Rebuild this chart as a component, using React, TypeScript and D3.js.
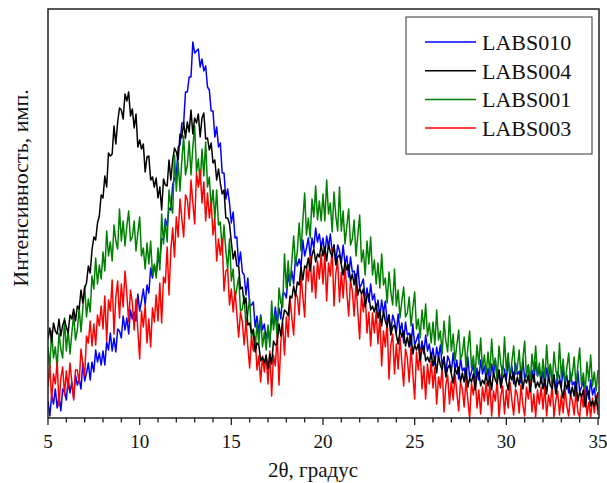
import React from "react";
import * as d3 from "d3";

// 2θ sampling: start 5°, step 0.1° (301 points per pattern)
const ANGLE_START = 5;
const ANGLE_STEP = 0.1;

const xTicks = [5, 10, 15, 20, 25, 30, 35];
const xMinorTicks = d3.range(5, 36, 1);

const seriesNames = ["LABS010", "LABS004", "LABS001", "LABS003"];
const seriesColors = ["#0000ff", "#000000", "#008000", "#ff0000"];

// intensity, arbitrary units
const labs010 = [
  17,2,23,14,29,10,22,7,29,26,18,39,25,36,20,43,33,39,29,55,37,45,55,38,56,46,68,56,65,53,
  67,53,76,68,85,67,80,66,89,87,80,102,88,100,84,108,99,106,97,124,107,117,129,113,133,125,150,140,153,143,
  159,155,179,179,199,192,210,208,233,240,242,271,273,295,295,326,326,341,341,376,365,367,369,351,359,347,352,331,328,307,
  307,281,291,271,275,245,245,219,229,215,195,206,180,181,153,166,146,143,123,140,112,113,116,91,102,85,103,88,94,79,
  89,77,100,94,111,95,110,99,124,125,120,144,133,147,134,160,152,159,151,178,162,170,180,162,180,170,190,176,184,170,
  180,163,182,171,184,165,173,155,173,167,155,173,154,162,141,161,146,147,132,153,130,134,139,117,130,116,134,118,124,108,
  118,100,118,105,117,95,103,85,103,97,85,104,86,95,75,96,83,85,72,94,73,78,84,63,77,64,83,67,74,59,
  70,53,71,60,73,52,61,43,62,57,46,65,48,58,39,60,47,50,38,61,40,46,54,34,50,38,58,44,52,38,
  50,34,54,44,58,38,48,32,52,48,38,58,42,52,34,55,43,47,35,59,39,45,53,32,48,36,56,42,49,35,
  47,31,50,40,53,33,43,26,46,41,31,50,34,43,25,46,33,36,24,47,26,31,38,17,32,19,38,23,30,15,
  26,
];

const labs004 = [
  79,90,76,95,87,84,99,82,93,98,91,85,103,99,109,97,112,109,128,115,130,135,152,145,168,181,178,195,202,223,
  220,242,231,265,262,264,292,274,296,310,308,299,324,317,326,302,309,290,304,271,278,269,274,246,261,262,238,241,231,240,
  220,231,208,239,233,232,258,238,258,270,266,258,284,280,296,280,296,286,308,284,300,295,304,281,300,305,279,280,268,275,
  255,258,238,249,235,224,228,200,200,194,176,159,167,152,152,129,131,114,120,93,95,85,88,66,75,73,57,61,55,63,
  49,64,54,77,73,74,94,82,98,108,106,102,122,120,132,122,136,133,151,138,152,150,160,147,163,169,156,164,161,173,
  162,171,157,174,166,161,173,153,161,163,153,143,156,148,153,137,144,133,144,123,130,124,129,111,122,124,108,112,106,114,
  100,108,92,107,97,91,103,83,91,93,83,74,88,81,87,72,81,71,84,64,73,68,74,57,69,72,57,61,56,65,
  52,61,45,62,53,48,61,41,50,53,44,35,50,44,51,36,45,36,50,31,40,36,44,28,42,46,32,38,34,44,
  32,42,28,46,38,34,48,30,40,44,36,28,44,38,46,31,41,33,47,29,39,35,43,26,40,44,30,36,31,41,
  29,39,24,42,33,29,43,24,34,37,29,20,36,29,37,22,31,22,36,17,26,21,28,11,24,27,12,17,12,21,
  8,
];

const labs001 = [
  71,50,87,60,71,50,85,69,60,100,67,88,64,85,103,78,88,110,86,110,132,101,119,106,142,129,160,134,153,139,
  166,147,187,162,176,157,193,177,169,209,177,197,172,192,207,177,181,197,167,185,201,162,170,149,175,154,177,143,154,140,
  170,148,204,174,196,176,228,212,205,263,227,256,227,257,282,243,253,277,243,271,292,246,259,234,269,242,276,231,241,210,
  228,199,228,193,196,167,193,167,149,179,137,149,118,130,141,107,109,122,90,105,119,80,89,68,95,74,101,71,86,68,
  93,71,117,88,104,80,130,115,111,164,130,157,132,157,182,153,167,195,167,197,225,183,200,180,219,201,232,198,217,197,
  224,197,238,204,215,186,226,202,187,231,187,207,174,192,209,173,179,198,162,183,203,156,168,143,177,154,181,143,158,134,
  155,130,164,133,140,115,146,126,113,149,112,128,100,117,131,101,105,121,92,110,126,89,99,80,108,89,114,82,95,75,
  96,73,108,78,87,64,97,77,66,102,67,84,57,73,88,59,64,81,51,70,87,50,62,43,73,54,80,49,63,44,
  66,44,79,51,60,38,72,54,43,81,47,65,39,56,72,44,50,68,39,59,77,41,53,34,64,46,72,42,55,37,
  59,37,73,44,54,32,66,48,37,75,41,59,32,50,65,37,43,61,32,52,70,33,45,26,56,37,63,32,46,27,
  48,
];

const labs003 = [
  31,53,17,44,34,56,12,40,51,23,47,29,55,36,18,48,48,35,69,54,42,82,75,97,72,94,73,103,92,112,
  89,122,77,118,107,138,84,121,137,100,134,111,147,124,96,128,115,88,119,88,59,107,91,113,75,99,71,110,96,123,
  97,135,95,141,135,171,123,168,190,161,201,181,219,199,181,223,218,199,238,215,194,245,231,248,215,236,197,225,200,216,
  183,199,157,179,163,179,127,147,149,113,129,106,127,104,81,106,96,73,97,72,50,82,67,81,48,62,36,62,46,62,
  34,67,22,63,52,83,33,75,95,63,101,81,120,100,83,125,121,103,143,121,101,151,137,162,126,152,120,157,139,164,
  134,164,117,155,142,170,112,145,157,116,146,120,152,126,102,138,127,102,135,106,79,124,106,125,85,106,72,105,85,106,
  74,102,52,87,71,97,39,73,84,44,74,49,81,56,32,69,60,36,71,44,19,66,48,69,29,52,19,54,34,57,
  30,51,14,41,30,51,6,33,43,14,37,18,44,25,7,36,29,11,38,18,0,35,23,40,10,28,4,31,17,35,
  13,35,2,27,17,38,1,22,32,4,28,10,36,18,3,29,23,5,33,13,2,31,19,37,6,24,1,28,14,31,
  9,31,2,23,12,34,1,18,27,3,23,5,30,12,2,23,17,3,27,6,1,24,11,29,2,16,1,20,5,23,
  3,
];

const seriesValues = [labs010, labs004, labs001, labs003];
// drawing order: blue, green, red, black on top
const drawOrder = [0, 2, 3, 1];

const W = 607;
const H = 483;
const left = 48;
const right = 598;
const top = 9;
const bottom = 418;
const FONT = "'Liberation Serif', 'Times New Roman', Times, 'DejaVu Serif', serif";

export default function App() {
  const x = d3.scaleLinear().domain([5, 35]).range([left, right]);
  const y = d3.scaleLinear().domain([0, 409]).range([bottom, top]);

  const line = d3
    .line<number>()
    .x((_, i) => x(ANGLE_START + i * ANGLE_STEP))
    .y((v) => y(v));

  const textStyle = { fontFamily: FONT } as React.CSSProperties;

  return (
    <svg
      width={W}
      height={H}
      style={{ position: "absolute", left: 0, top: 0, background: "#fff" }}
    >
      <defs>
        <clipPath id="plotClip">
          <rect x={left} y={top} width={right - left + 1} height={bottom - top} />
        </clipPath>
      </defs>
      <rect x={0} y={0} width={W} height={H} fill="#fff" />
      <g clipPath="url(#plotClip)">
        {drawOrder.map((k) => (
          <path
            key={seriesNames[k]}
            d={line(seriesValues[k]) || ""}
            fill="none"
            stroke={seriesColors[k]}
            strokeWidth={1.5}
            strokeLinejoin="round"
          />
        ))}
      </g>
      {/* frame */}
      <rect
        x={left}
        y={top}
        width={right - left + 1}
        height={bottom - top}
        fill="none"
        stroke="#222"
        strokeWidth={1.5}
      />
      {/* x ticks */}
      {xMinorTicks.map((t) => (
        <line
          key={"m" + t}
          x1={x(t)}
          x2={x(t)}
          y1={bottom}
          y2={bottom + (xTicks.includes(t) ? 7 : 4.5)}
          stroke="#222"
          strokeWidth={1.3}
        />
      ))}
      {xTicks.map((t) => (
        <text
          key={"l" + t}
          x={x(t)}
          y={448}
          textAnchor="middle"
          style={textStyle}
          fontSize={19}
          fill="#111"
        >
          {t}
        </text>
      ))}
      <text
        x={313}
        y={477}
        textAnchor="middle"
        style={textStyle}
        fontSize={21}
        fill="#111"
      >
        2θ, градус
      </text>
      <text
        transform="translate(28,188) rotate(-90)"
        textAnchor="middle"
        style={textStyle}
        fontSize={22}
        fill="#111"
      >
        Интенсивность, имп.
      </text>
      {/* legend */}
      <rect x={406} y={17} width={186} height={137} fill="#fff" stroke="#333" strokeWidth={1} />
      {seriesNames.map((name, i) => {
        const ly = 42 + i * 28.7;
        return (
          <g key={name}>
            <line x1={425} x2={476} y1={ly} y2={ly} stroke={seriesColors[i]} strokeWidth={1.5} />
            <text x={482} y={ly + 8} style={textStyle} fontSize={22} fill="#111">
              {name}
            </text>
          </g>
        );
      })}
    </svg>
  );
}
